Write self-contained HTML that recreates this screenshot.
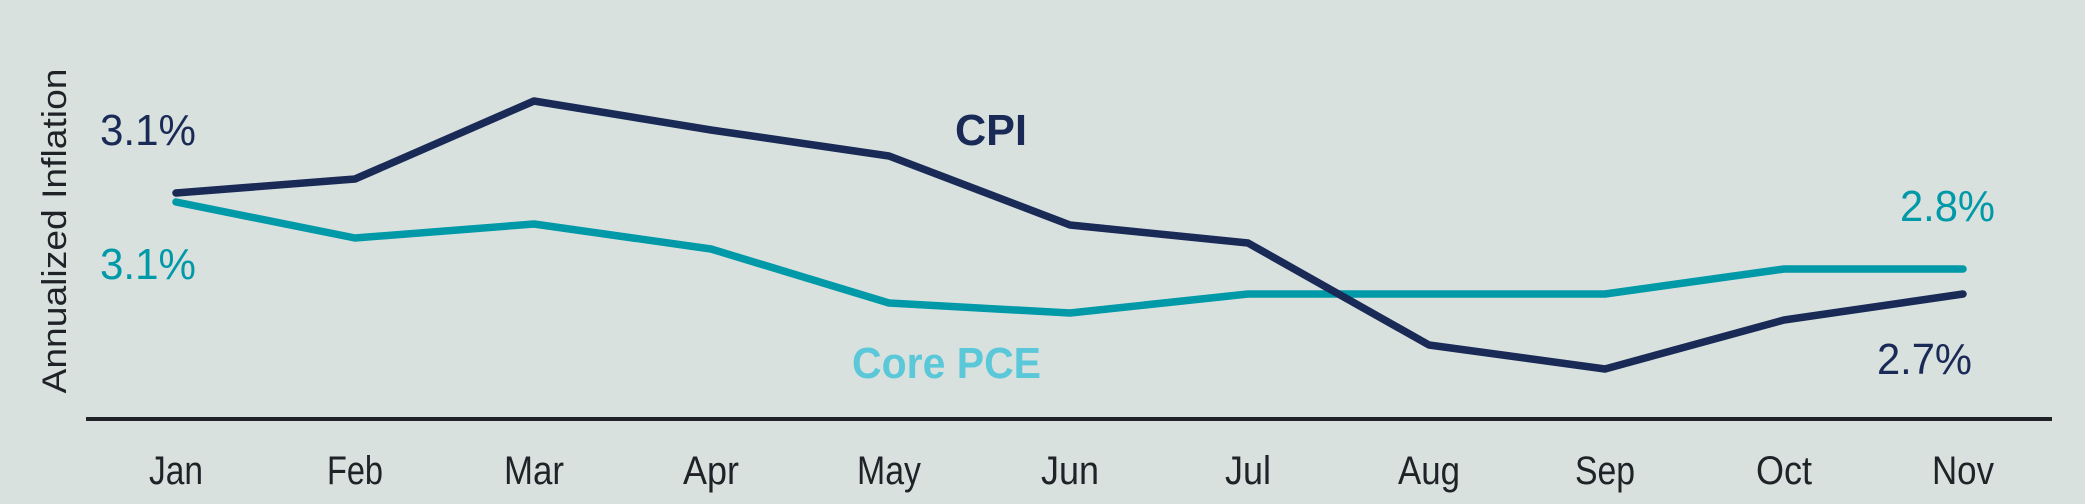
<!DOCTYPE html>
<html><head><style>
html,body{margin:0;padding:0;background:#d9e1de;}
svg{display:block;}
text{font-family:"Liberation Sans",sans-serif;}
</style></head><body>
<svg width="2085" height="504" viewBox="0 0 2085 504" xmlns="http://www.w3.org/2000/svg">
<rect x="0" y="0" width="2085" height="504" fill="#d9e1de"/>
<line x1="86" y1="419" x2="2052" y2="419" stroke="#1f2328" stroke-width="4"/>
<polyline fill="none" stroke="#0099a8" stroke-width="7.5" stroke-linejoin="round" stroke-linecap="round"
 points="176,202 355,238 534,224 711,249 889,303 1070,313 1248,294 1429,294 1605,294 1784,269 1963,269"/>
<polyline fill="none" stroke="#1a2a57" stroke-width="7.5" stroke-linejoin="round" stroke-linecap="round"
 points="176,193 355,179 534,101 711,130 889,156 1070,225 1248,243 1429,345 1605,369 1784,320 1963,294"/>
<g font-size="40" fill="#1f2328" text-anchor="middle">
<text x="176" y="484" textLength="54" lengthAdjust="spacingAndGlyphs">Jan</text>
<text x="355" y="484" textLength="56" lengthAdjust="spacingAndGlyphs">Feb</text>
<text x="534" y="484" textLength="60" lengthAdjust="spacingAndGlyphs">Mar</text>
<text x="711" y="484" textLength="56" lengthAdjust="spacingAndGlyphs">Apr</text>
<text x="889" y="484" textLength="64" lengthAdjust="spacingAndGlyphs">May</text>
<text x="1070" y="484" textLength="58" lengthAdjust="spacingAndGlyphs">Jun</text>
<text x="1248" y="484" textLength="46" lengthAdjust="spacingAndGlyphs">Jul</text>
<text x="1429" y="484" textLength="62" lengthAdjust="spacingAndGlyphs">Aug</text>
<text x="1605" y="484" textLength="60" lengthAdjust="spacingAndGlyphs">Sep</text>
<text x="1784" y="484" textLength="56" lengthAdjust="spacingAndGlyphs">Oct</text>
<text x="1963" y="484" textLength="62" lengthAdjust="spacingAndGlyphs">Nov</text>
</g>
<text x="100" y="145" font-size="44" fill="#1a2a57" textLength="96" lengthAdjust="spacingAndGlyphs">3.1%</text>
<text x="100" y="279" font-size="44" fill="#0099a8" textLength="96" lengthAdjust="spacingAndGlyphs">3.1%</text>
<text x="955" y="145" font-size="44" font-weight="bold" fill="#1a2a57" textLength="72" lengthAdjust="spacingAndGlyphs">CPI</text>
<text x="852" y="378" font-size="44" font-weight="bold" fill="#5ac8d8" textLength="189" lengthAdjust="spacingAndGlyphs">Core PCE</text>
<text x="1900" y="221" font-size="44" fill="#0099a8" textLength="95" lengthAdjust="spacingAndGlyphs">2.8%</text>
<text x="1877" y="374" font-size="44" fill="#1a2a57" textLength="95" lengthAdjust="spacingAndGlyphs">2.7%</text>
<text transform="translate(66,231) rotate(-90)" font-size="34" fill="#1f2328" text-anchor="middle" textLength="325" lengthAdjust="spacingAndGlyphs">Annualized Inflation</text>
</svg>
</body></html>
